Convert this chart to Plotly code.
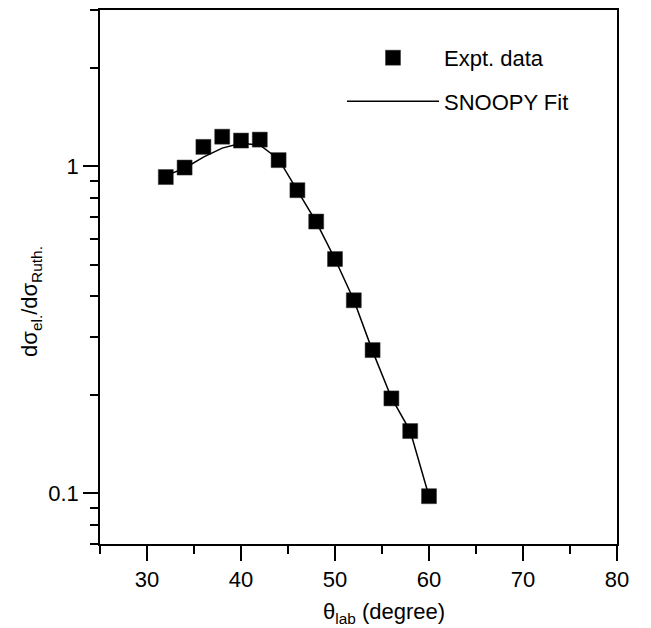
import plotly.graph_objects as go

# Experimental data
theta_exp = [32, 34, 36, 38, 40, 42, 44, 46, 48, 50, 52, 54, 56, 58, 60]
ratio_exp = [0.926, 0.99, 1.145, 1.23, 1.197, 1.205, 1.043, 0.844, 0.677,
             0.52, 0.389, 0.274, 0.195, 0.155, 0.098]

# SNOOPY fit
theta_fit = [32, 34, 36, 38, 40, 42, 44, 46, 48, 50, 52, 54, 56, 58, 60]
ratio_fit = [0.935, 0.985, 1.065, 1.135, 1.175, 1.16, 1.05, 0.845, 0.675,
             0.52, 0.39, 0.272, 0.196, 0.155, 0.098]

x_major = [30, 40, 50, 60, 70, 80]
x_minor = [25, 35, 45, 55, 65, 75]
y_major = [0.1, 1]
y_major_text = ["0.1", "1"]
y_minor = [0.07, 0.08, 0.09, 0.2, 0.3, 0.4, 0.5, 0.6, 0.7, 0.8, 0.9, 2, 3]

FONT = "Liberation Sans, Arial, sans-serif"
FS = 22

# page body has an 8px margin; plot area spans x 100..617, y 8..544 on the page
W, H = 643, 620
ML, MR, MT, MB = 92, 34, 0, 84
PW = W - ML - MR
PH = H - MT - MB

def px(x):
    return (x - 8 - ML) / PW

def py(y):
    return (H - MB - (y - 8)) / PH

fig = go.Figure()
fig.add_trace(go.Scatter(
    x=theta_exp, y=ratio_exp, mode="markers", name="Expt. data",
    legendgroup="a",
    marker=dict(symbol="square", size=15, color="black",
                line=dict(color="#333", width=0.5)),
))
fig.add_trace(go.Scatter(
    x=theta_fit, y=ratio_fit, mode="lines", name="SNOOPY Fit",
    legendgroup="b",
    line=dict(color="black", width=1.5),
))

fig.update_layout(
    width=W, height=H,
    margin=dict(l=ML, r=MR, t=MT, b=MB),
    paper_bgcolor="white", plot_bgcolor="white",
    font=dict(family=FONT, size=FS, color="black"),
    showlegend=True,
    legend=dict(
        x=px(342), y=py(35), xanchor="left", yanchor="top",
        bgcolor="rgba(0,0,0,0)", font=dict(size=FS, family=FONT),
        itemwidth=92, tracegroupgap=12, traceorder="grouped",
    ),
    annotations=[
        dict(text="θ<sub>lab</sub> (degree)", xref="paper", yref="paper",
             x=px(384), y=py(613),
             xanchor="center", yanchor="middle", showarrow=False,
             font=dict(size=FS, family=FONT)),
        dict(text="dσ<sub>el.</sub>/dσ<sub>Ruth.</sub>", xref="paper", yref="paper",
             x=px(31), y=py(301), textangle=-90,
             xanchor="center", yanchor="middle", showarrow=False,
             font=dict(size=FS, family=FONT)),
    ],
)

fig.update_xaxes(
    range=[25, 80], showgrid=False, zeroline=False,
    showline=True, linecolor="black", linewidth=1.5, mirror=True,
    tickmode="array", tickvals=x_major, ticks="outside", ticklen=15,
    tickwidth=1.5, tickcolor="black", ticklabelstandoff=0,
    minor=dict(tickmode="array", tickvals=x_minor, ticks="outside",
               ticklen=8, tickwidth=1.5, tickcolor="black", showgrid=False),
)
fig.update_yaxes(
    type="log", range=[-1.1549, 0.4771], showgrid=False, zeroline=False,
    showline=True, linecolor="black", linewidth=1.5, mirror=True,
    tickmode="array", tickvals=y_major, ticktext=y_major_text,
    ticks="outside", ticklen=15, tickwidth=1.5, tickcolor="black",
    minor=dict(tickmode="array", tickvals=y_minor, ticks="outside",
               ticklen=8, tickwidth=1.5, tickcolor="black", showgrid=False),
)

fig.write_html("out.html")
